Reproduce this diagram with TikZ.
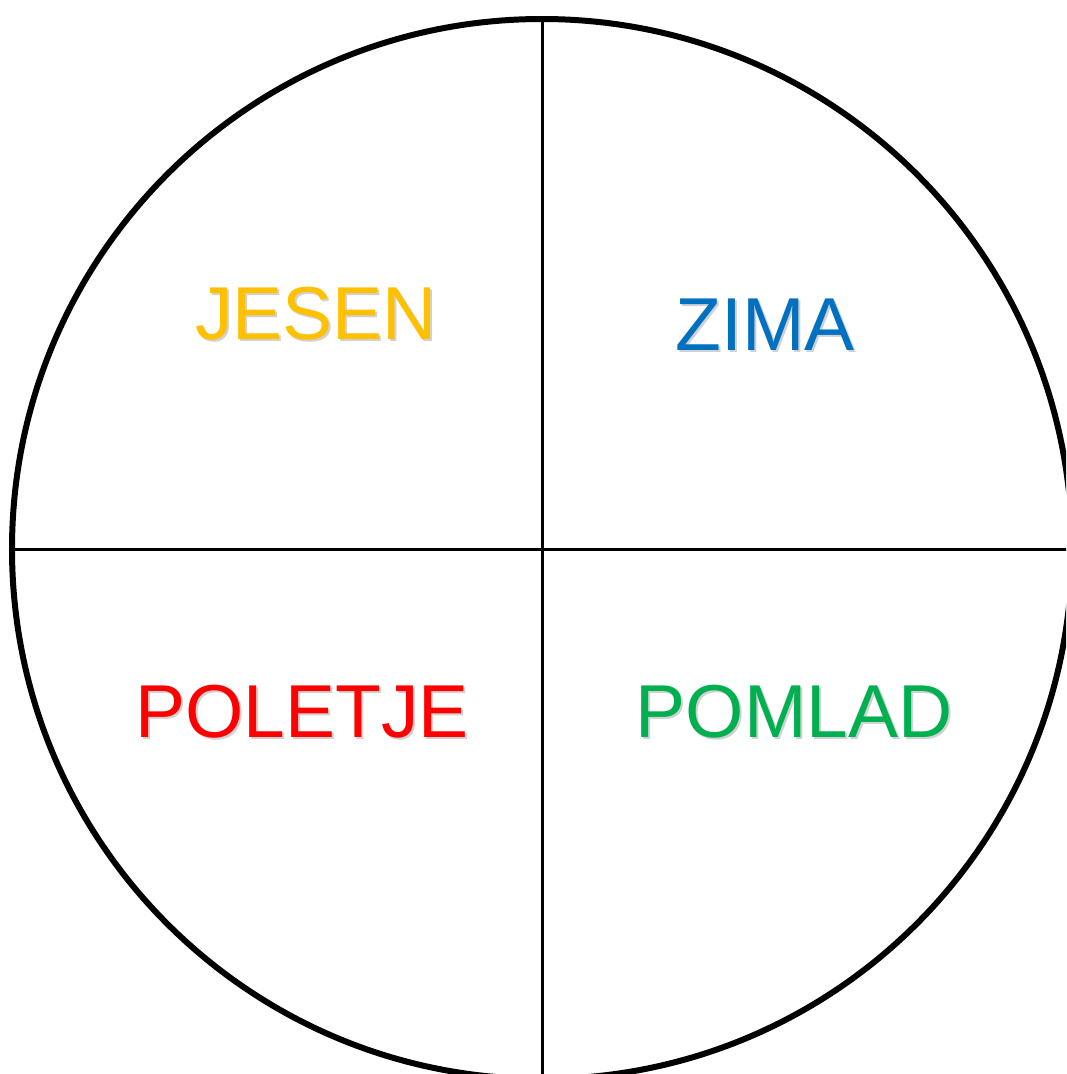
\documentclass[tikz,border=0pt]{standalone}
\usepackage{fontspec}
\setmainfont{Liberation Sans}
\definecolor{cjesen}{HTML}{FFC000}
\definecolor{czima}{HTML}{0070C0}
\definecolor{cpoletje}{HTML}{FF0000}
\definecolor{cpomlad}{HTML}{00B050}
\tikzset{
  season/.style={anchor=base, inner sep=0pt, font=\fontsize{75}{90}\selectfont},
  shade/.style={season, text=black, opacity=0.18},
}
\begin{document}
\begin{tikzpicture}[x=1pt,y=-1pt]
\useasboundingbox (0,0) rectangle (1066,1074);
\clip (0,0) rectangle (1066,1074);
\fill[white] (0,0) rectangle (1066,1074);
\node[circle, draw, line width=6pt, minimum size=1060pt, inner sep=0pt] (wheel) at (542,549) {};
\draw[line width=3pt] (wheel.north) -- (wheel.south);
\draw[line width=3pt] (wheel.west) -- (wheel.east);
% shadows
\node[shade] (jesenS) at (318,341) {JESEN};
\node[shade] (zimaS) at (767,352) {ZIMA};
\node[shade] (poletjeS) at (304,739) {POLETJE};
\node[shade] (pomladS) at (796,739) {POMLAD};
% texts
\node[season, text=cjesen] (jesen) at (316,339) {JESEN};
\node[season, text=czima] (zima) at (765,350) {ZIMA};
\node[season, text=cpoletje] (poletje) at (302,737) {POLETJE};
\node[season, text=cpomlad] (pomlad) at (794,737) {POMLAD};
\end{tikzpicture}
\end{document}
